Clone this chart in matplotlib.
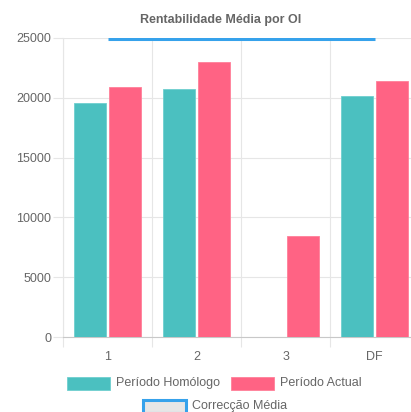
import matplotlib.pyplot as plt
from matplotlib.patches import Rectangle

categories = ['1', '2', '3', 'DF']
periodo_homologo = [19600, 20700, 0, 20150]
periodo_actual = [20900, 23000, 8450, 21400]
correccao_media = [24900, 24900, 24900, 24900]

TEAL = '#4BC0C0'
PINK = '#FF6384'
BLUE = '#36A2EB'
TXT = '#666666'
GRID = '#e6e6e6'

plt.rcParams['font.family'] = ['Liberation Sans', 'DejaVu Sans']

W, H = 411, 412
fig = plt.figure(figsize=(W / 100, H / 100), dpi=100)


def fx(px):
    return px / W


def fy(py):
    return 1 - py / H


ax = fig.add_axes([fx(63), fy(337), fx(356), 299 / H])
x = list(range(len(categories)))
ax.bar([i - 0.2 for i in x], periodo_homologo, width=0.36, color=TEAL,
       edgecolor='#6fcfcf', linewidth=0.6, zorder=3)
ax.bar([i + 0.2 for i in x], periodo_actual, width=0.36, color=PINK,
       edgecolor='#ff7f99', linewidth=0.6, zorder=3)
ax.plot(x, correccao_media, color=BLUE, linewidth=2.2, zorder=4,
        solid_capstyle='butt')

ax.set_xlim(-0.5, 3.5)
ax.set_ylim(0, 25000)
ax.set_yticks(range(0, 25001, 5000))
ax.set_yticklabels([str(v) for v in range(0, 25001, 5000)])
ax.set_xticks(x)
ax.set_xticklabels(categories)
ax.set_xticks([-0.5, 0.5, 1.5, 2.5, 3.5], minor=True)
ax.tick_params(axis='x', which='major', length=0, pad=10, labelsize=9,
               labelcolor=TXT)
ax.tick_params(axis='x', which='minor', length=7.5, color=GRID, width=0.8)
ax.tick_params(axis='y', length=7.5, color=GRID, width=0.8, pad=1,
               labelsize=9, labelcolor=TXT)
ax.grid(axis='y', color=GRID, linewidth=0.8, zorder=0)
ax.grid(axis='x', which='minor', color=GRID, linewidth=0.8, zorder=0)
for side in ['top', 'right']:
    ax.spines[side].set_visible(False)
ax.spines['left'].set_color(GRID)
ax.spines['left'].set_linewidth(0.8)
ax.spines['bottom'].set_color('#c8c8c8')
ax.spines['bottom'].set_linewidth(0.8)
ax.set_facecolor('white')

fig.text(fx(221), fy(20), 'Rentabilidade Média por OI', ha='center',
         va='center', fontsize=9, fontweight='bold', color=TXT)

# legend drawn by hand to match the layout
def legend_item(x0, y0, face, edge, lw, label):
    fig.add_artist(Rectangle((fx(x0), fy(y0 + 6.5)), fx(43), 13 / H,
                             transform=fig.transFigure, facecolor=face,
                             edgecolor=edge, linewidth=lw))
    fig.text(fx(x0 + 49), fy(y0), label, ha='left', va='center',
             fontsize=9, color=TXT)


legend_item(67, 383, TEAL, '#6fcfcf', 0.6, 'Período Homólogo')
legend_item(231, 383, PINK, '#ff7f99', 0.6, 'Período Actual')
legend_item(143, 406, '#e6e6e6', BLUE, 2.2, 'Correcção Média')

fig.savefig('out.png', dpi=100)
